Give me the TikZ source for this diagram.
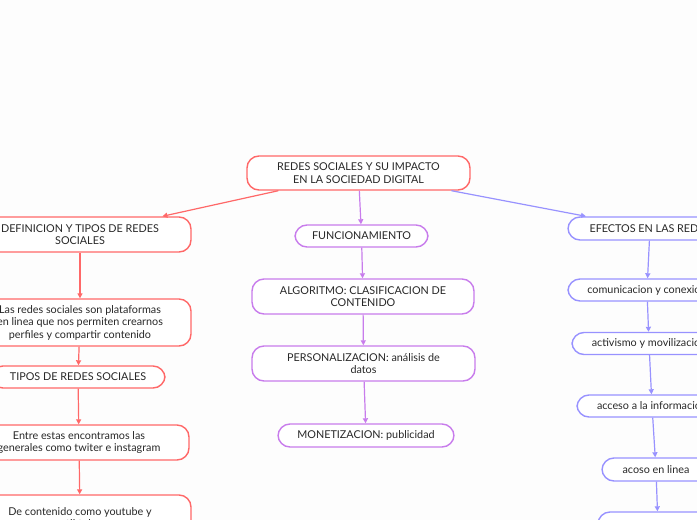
\documentclass[tikz,border=0pt]{standalone}
\usepackage{fontspec}
\setmainfont{Lato}
\usetikzlibrary{arrows.meta}
\definecolor{cred}{RGB}{255,104,104}
\definecolor{cpur}{RGB}{200,124,236}
\definecolor{cblu}{RGB}{152,146,255}
\definecolor{ctxt}{RGB}{40,40,40}
\definecolor{cbg}{RGB}{253,253,253}
\tikzset{
  box/.style={draw, line width=1.4pt, rounded corners=12pt, fill=white, inner sep=0pt,
    align=center, text=ctxt, font=\fontsize{10.8}{12.5}\selectfont},
  rbox/.style={box, draw=cred},
  pbox/.style={box, draw=cpur},
  bbox/.style={box, draw=cblu},
  conn/.style={line width=1.2pt, -{Triangle[length=5pt,width=5pt]}},
}
\begin{document}
\begin{tikzpicture}[x=1pt,y=-1pt]
\fill[cbg] (0,0) rectangle (697,520);
\useasboundingbox (0,0) rectangle (697,520);
\clip (0,0) rectangle (697,520);
% root
\node[rbox, minimum width=223pt, minimum height=34pt] (root) at (358.5,173) {REDES SOCIALES Y SU IMPACTO\\EN LA SOCIEDAD DIGITAL};
% left branch
\node[rbox, minimum width=222pt, minimum height=35pt] (def) at (80,234.5) {DEFINICION Y TIPOS DE REDES\\SOCIALES};
\node[rbox, minimum width=222pt, minimum height=47pt] (las) at (80,322.5) {Las redes sociales son plataformas\\en linea que nos permiten crearnos\\perfiles y compartir contenido};
\node[rbox, minimum width=174pt, minimum height=22pt] (tipos) at (78,377) {TIPOS DE REDES SOCIALES};
\node[rbox, minimum width=220pt, minimum height=35pt] (entre) at (79,442.5) {Entre estas encontramos las\\generales como twiter e instagram};
\node[rbox, minimum width=222pt, minimum height=45pt] (de) at (80,517.5) {De contenido como youtube y\\tiktok};
% middle branch
\node[pbox, minimum width=133pt, minimum height=22pt] (func) at (361.5,236) {FUNCIONAMIENTO};
\node[pbox, minimum width=222pt, minimum height=35pt] (algo) at (363,296.5) {ALGORITMO: CLASIFICACION DE\\CONTENIDO};
\node[pbox, minimum width=223pt, minimum height=35pt] (pers) at (363.5,363.5) {PERSONALIZACION: análisis de\\datos};
\node[pbox, minimum width=176pt, minimum height=23pt] (mone) at (366,435.5) {MONETIZACION: publicidad};
% right branch
\node[bbox, minimum width=164pt, minimum height=23pt] (efe) at (650,228.5) {EFECTOS EN LAS REDES};
\node[bbox, minimum width=158pt, minimum height=22pt] (com) at (647,290) {comunicacion y conexion};
\node[bbox, minimum width=154pt, minimum height=22pt] (act) at (649,343.5) {activismo y movilizacion};
\node[bbox, minimum width=150pt, minimum height=22pt] (acc) at (652,406) {acceso a la informacion};
\node[bbox, minimum width=108pt, minimum height=23pt] (aco) at (656,469.5) {acoso en linea};
\node[bbox, minimum width=120pt, minimum height=30pt] (last) at (658,527) {};
% connectors
\draw[conn, cred] (root) -- (def);
\draw[conn, cred] (def) -- (las);
\draw[conn, cred] (las) -- (tipos);
\draw[conn, cred] (tipos) -- (entre);
\draw[conn, cred] (entre) -- (de);
\draw[conn, cpur] (root) -- (func);
\draw[conn, cpur] (func) -- (algo);
\draw[conn, cpur] (algo) -- (pers);
\draw[conn, cpur] (pers) -- (mone);
\draw[conn, cblu] (root) -- (efe);
\draw[conn, cblu] (efe) -- (com);
\draw[conn, cblu] (com) -- (act);
\draw[conn, cblu] (act) -- (acc);
\draw[conn, cblu] (acc) -- (aco);
\draw[conn, cblu] (aco) -- (last);
\end{tikzpicture}
\end{document}
